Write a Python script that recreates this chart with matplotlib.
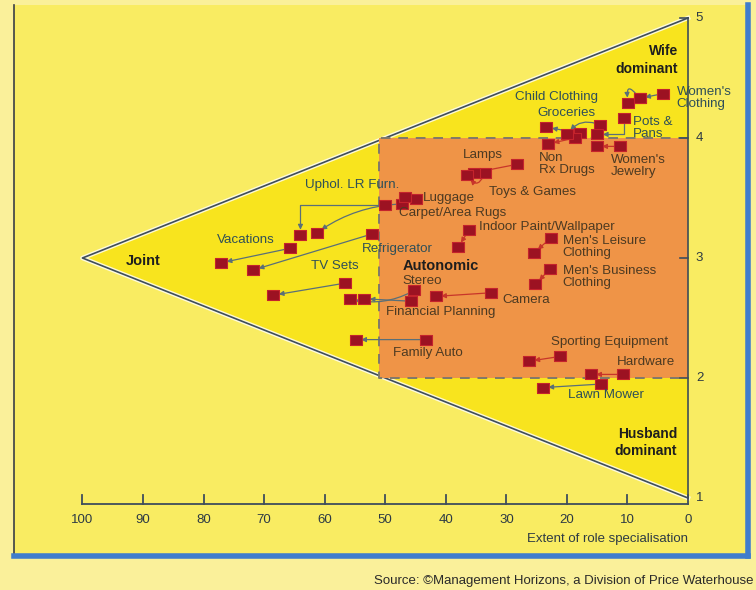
import matplotlib
matplotlib.use("Agg")
import matplotlib.pyplot as plt
from matplotlib.patches import Rectangle

plt.rcParams['font.family'] = ['Liberation Sans', 'DejaVu Sans']

# each purchase moves from one position to another (x = role specialisation, y = relative influence)
products = ["Women's Clothing", "Women's Clothing", "Pots & Pans", "Groceries", "Child Clothing",
            "Non Rx Drugs", "Women's Jewelry", "Lamps", "Toys & Games", "Luggage",
            "Uphol. LR Furn.", "Carpet/Area Rugs", "Refrigerator", "Vacations",
            "Indoor Paint/Wallpaper", "Men's Leisure Clothing", "Men's Business Clothing",
            "TV Sets", "Stereo", "Financial Planning", "Camera", "Family Auto",
            "Sporting Equipment", "Hardware", "Lawn Mower"]
x_from = [4.1, 8.0, 10.6, 14.6, 17.9, 18.7, 11.3, 28.3, 33.6, 45.0, 50.1, 47.3, 52.2, 65.8,
          36.2, 22.6, 22.8, 56.7, 45.2, 45.8, 32.6, 43.2, 21.1, 10.8, 14.3]
y_from = [4.37, 4.33, 4.17, 4.11, 4.04, 4.00, 3.93, 3.78, 3.71, 3.49, 3.44, 3.45, 3.20, 3.08,
          3.23, 3.17, 2.91, 2.79, 2.73, 2.64, 2.71, 2.32, 2.18, 2.03, 1.95]
x_to = [8.0, 9.9, 15.0, 20.0, 23.4, 23.1, 15.1, 35.4, 36.5, 46.8, 64.0, 61.3, 71.8, 77.1,
        38.0, 25.5, 25.2, 68.5, 55.9, 53.5, 41.7, 54.9, 26.3, 16.1, 24.0]
y_to = [4.33, 4.29, 4.03, 4.03, 4.09, 3.95, 3.93, 3.71, 3.69, 3.51, 3.19, 3.21, 2.90, 2.96,
        3.09, 3.04, 2.78, 2.69, 2.66, 2.66, 2.68, 2.32, 2.14, 2.03, 1.92]
paths = ["arc3,rad=0", "arc3,rad=2", "angle,angleA=90,angleB=0,rad=0", "arc3,rad=0.4",
         "arc3,rad=0", "arc3,rad=0", "arc3,rad=0", "arc3,rad=0", "arc3,rad=-1.0", "arc3,rad=0",
         "angle,angleA=0,angleB=90,rad=0", "arc3,rad=0.15", "arc3,rad=0", "arc3,rad=0",
         "arc3,rad=0", "arc3,rad=0", "arc3,rad=0", "arc3,rad=0", "arc3,rad=-0.2", "arc3,rad=0",
         "arc3,rad=0", "arc3,rad=0", "arc3,rad=0", "arc3,rad=0", "arc3,rad=0"]

# text labels beside the points
label_text = ["Women's\nClothing", "Child Clothing", "Groceries", "Pots &\nPans", "Non\nRx Drugs",
              "Women's\nJewelry", "Lamps", "Toys & Games", "Uphol. LR Furn.", "Luggage",
              "Carpet/Area Rugs", "Indoor Paint/Wallpaper", "Men's Leisure\nClothing",
              "Men's Business\nClothing", "Vacations", "Refrigerator", "TV Sets", "Stereo",
              "Camera", "Financial Planning", "Family Auto", "Sporting Equipment",
              "Hardware", "Lawn Mower"]
label_x = [1.9, 21.7, 20.0, 9.1, 24.6, 12.8, 33.8, 32.9, 63.3, 43.8, 47.7, 34.5, 20.7, 20.7,
           77.8, 53.9, 62.3, 47.1, 30.7, 49.9, 48.7, 22.6, 11.8, 19.8]
label_y = [4.33, 4.34, 4.21, 4.08, 3.78, 3.77, 3.86, 3.55, 3.61, 3.50, 3.375, 3.26, 3.09, 2.84,
           3.15, 3.075, 2.93, 2.81, 2.65, 2.55, 2.21, 2.30, 2.13, 1.86]

x_ticks = [100, 90, 80, 70, 60, 50, 40, 30, 20, 10, 0]
y_ticks = [1, 2, 3, 4, 5]

fig = plt.figure(figsize=(7.56, 5.90), dpi=100)
fig.patch.set_facecolor('#faf09a')
ax = fig.add_axes([14 / 756, 34 / 590, 734 / 756, 551 / 590])
ax.set_facecolor('#f9ec62')
ax.set_xlim(111.3, -9.9)
ax.set_ylim(0.517, 5.108)
ax.set_xticks([])
ax.set_yticks([])
ax.spines['top'].set_visible(False)
ax.spines['left'].set_color('#3a3f45')
ax.spines['left'].set_linewidth(1.2)
ax.spines['bottom'].set_color('#3f7dcc')
ax.spines['bottom'].set_linewidth(4)
ax.spines['right'].set_color('#3f7dcc')
ax.spines['right'].set_linewidth(4)

# triangle and the autonomic box
ax.fill([100, 0, 0], [3, 5, 1], color='#f8e41e', zorder=1)
ax.plot([0, 100, 0], [5, 3, 1], color='white', lw=3.2, alpha=0.8, zorder=1.5)
ax.plot([0, 100, 0], [5, 3, 1], color='#3e4d5c', lw=1.2, zorder=2)
ax.add_patch(Rectangle((0, 2), 51, 2, facecolor='#ef9447', edgecolor='none', zorder=2))
ax.plot([0, 51, 51, 0], [4, 4, 2, 2], color='#80796a', lw=1.4, ls=(0, (5, 4)), zorder=3)

# vertical scale
ax.plot([0, 0], [1, 5], color='#3e4d5c', lw=1.2, zorder=3)
for v in y_ticks:
    if v > 1:
        ax.plot([0, 1.3], [v, v], color='#3e4d5c', lw=1.2, zorder=3)
    ax.text(-1.9, v, str(v), ha='center', va='center', fontsize=9.5, color='#2d3a44')

# horizontal scale
ax.plot([100, 0], [0.95, 0.95], color='#3e4d5c', lw=1.3, zorder=3)
for v in x_ticks:
    ax.plot([v, v], [0.95, 1.025], color='#3e4d5c', lw=1.3, zorder=3)
    ax.text(v, 0.815, str(v), ha='center', va='center', fontsize=9.5, color='#2d3a44')
ax.text(0, 0.655, 'Extent of role specialisation', ha='right', va='center', fontsize=9.5,
        color='#2d3a44')

def in_box(x, y):
    return x <= 51 and 2 <= y <= 4

# arrows first, then the square markers on top
for i in range(len(products)):
    inside = in_box(x_from[i], y_from[i]) and in_box(x_to[i], y_to[i])
    col = '#c8352a' if inside else '#5a6f78'
    ax.annotate('', xy=(x_to[i], y_to[i]), xytext=(x_from[i], y_from[i]),
                arrowprops=dict(arrowstyle='-|>', color=col, lw=0.9, mutation_scale=7,
                                shrinkA=3, shrinkB=4, connectionstyle=paths[i]),
                zorder=4)

rect_marker = [(-1.3, -1), (1.3, -1), (1.3, 1), (-1.3, 1), (-1.3, -1)]
ax.plot(x_from, y_from, ls='none', marker=rect_marker, ms=8.5, mfc='#9c1222', mec='#c4232c',
        mew=0.8, zorder=5)
ax.plot(x_to, y_to, ls='none', marker=rect_marker, ms=8.5, mfc='#9c1222', mec='#c4232c',
        mew=0.8, zorder=5)

for t, x, y in zip(label_text, label_x, label_y):
    col = '#4d3a22' if in_box(x, y) else '#2f4f58'
    ha = 'center' if t in ('Child Clothing', 'Groceries', 'Lamps') else 'left'
    ax.text(x, y, t, ha=ha, va='center', fontsize=9.6, color=col, linespacing=1.0, zorder=6)

# region names
ax.text(1.7, 4.65, 'Wife\ndominant', ha='right', va='center', fontsize=10, fontweight='bold',
        color='#1e1e1e', linespacing=1.3)
ax.text(1.8, 1.46, 'Husband\ndominant', ha='right', va='center', fontsize=10, fontweight='bold',
        color='#1e1e1e', linespacing=1.3)
ax.text(90.0, 2.975, 'Joint', ha='center', va='center', fontsize=10.5, fontweight='bold',
        color='#1e1e1e')
ax.text(40.8, 2.93, 'Autonomic', ha='center', va='center', fontsize=10.5, fontweight='bold',
        color='#1e1e1e', zorder=6)

fig.text(754 / 756, 1 - 581 / 590, 'Source: \u00a9Management Horizons, a Division of Price Waterhouse',
         ha='right', va='center', fontsize=9.5, color='#2a2a2a')

plt.savefig('out.png', dpi=100, facecolor=fig.get_facecolor())
